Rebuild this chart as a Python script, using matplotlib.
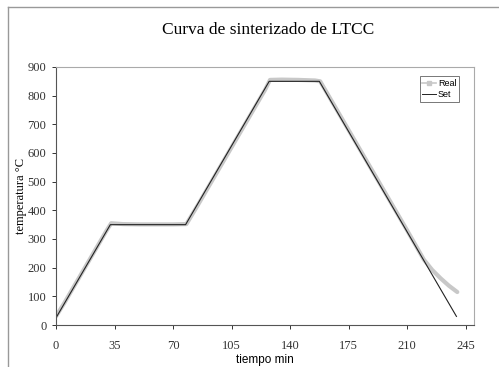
import matplotlib
matplotlib.use("Agg")
import matplotlib.pyplot as plt
from matplotlib.lines import Line2D

# Data
set_t = [0, 32.5, 77.5, 127.5, 157.5, 239.5]
set_temp = [25, 350, 350, 850, 850, 30]

real_t = [0, 5, 10, 15, 20, 25, 30, 33, 40, 50, 60, 70, 78, 85, 95, 105, 115, 125,
          128, 135, 145, 155, 158, 170, 180, 190, 200, 210, 220, 225, 230, 235, 240]
real_temp = [30, 77, 127, 177, 227, 277, 327, 355, 352, 351, 351, 351, 352, 420, 520, 620,
             720, 820, 855, 856, 855, 853, 850, 730, 630, 530, 430, 330, 228, 192, 163, 137, 115]

x_ticks = [0, 35, 70, 105, 140, 175, 210, 245]
y_ticks = [0, 100, 200, 300, 400, 500, 600, 700, 800, 900]

serif = "Liberation Serif"
sans = "Liberation Sans"

fig = plt.figure(figsize=(4.99, 3.67), dpi=100)
W, H = 499, 367
ax = fig.add_axes([56 / W, 1 - 325 / H, (474 - 56) / W, (325 - 67) / H])

ax.plot(real_t, real_temp, color="#c8c8c8", lw=3.0, solid_capstyle="round", label="Real")
ax.plot(set_t, set_temp, color="#222222", lw=0.8, label="Set")

ax.set_xlim(0, 250)
ax.set_ylim(0, 900)
ax.set_xticks(x_ticks)
ax.set_yticks(y_ticks)
for lab in ax.get_xticklabels() + ax.get_yticklabels():
    lab.set_fontfamily(serif)
    lab.set_fontsize(9)
ax.tick_params(direction="out", length=3, width=0.7, colors="#333333")
ax.tick_params(axis="x", pad=8)
ax.tick_params(axis="y", pad=4)
for s in ["top", "right"]:
    ax.spines[s].set_color("#aaaaaa")
    ax.spines[s].set_linewidth(0.8)
for s in ["left", "bottom"]:
    ax.spines[s].set_color("#555555")
    ax.spines[s].set_linewidth(0.8)

ax.set_xlabel("tiempo min", fontfamily=sans, fontsize=8.5, labelpad=1)
ax.set_ylabel("temperatura °C", fontfamily=serif, fontsize=9, labelpad=0)
fig.text(268 / W, 1 - 30 / H, "Curva de sinterizado de LTCC", fontfamily=serif,
         fontsize=12.5, ha="center", va="center")

handles = [Line2D([0], [0], color="#c8c8c8", lw=1.2, marker="s", markersize=2.5,
                  markerfacecolor="#c8c8c8", markeredgecolor="#c8c8c8"),
           Line2D([0], [0], color="#222222", lw=0.7)]
leg = ax.legend(handles, ["Real", "Set"], loc="upper right",
                bbox_to_anchor=(459 / W, 1 - 76 / H), bbox_transform=fig.transFigure,
                prop={"family": sans, "size": 6.5}, frameon=True, fancybox=False,
                handlelength=1.5, handletextpad=0.2, borderpad=0.3, labelspacing=0.25,
                borderaxespad=0)
leg.get_frame().set_edgecolor("#555555")
leg.get_frame().set_linewidth(0.7)

# outer frame lines
fig.add_artist(Line2D([8 / W, 1], [1 - 7 / H, 1 - 7 / H], transform=fig.transFigure,
                      color="#999999", lw=1))
fig.add_artist(Line2D([8 / W, 8 / W], [1 - 7 / H, 0], transform=fig.transFigure,
                      color="#999999", lw=1))

fig.savefig("out.png", dpi=100)
